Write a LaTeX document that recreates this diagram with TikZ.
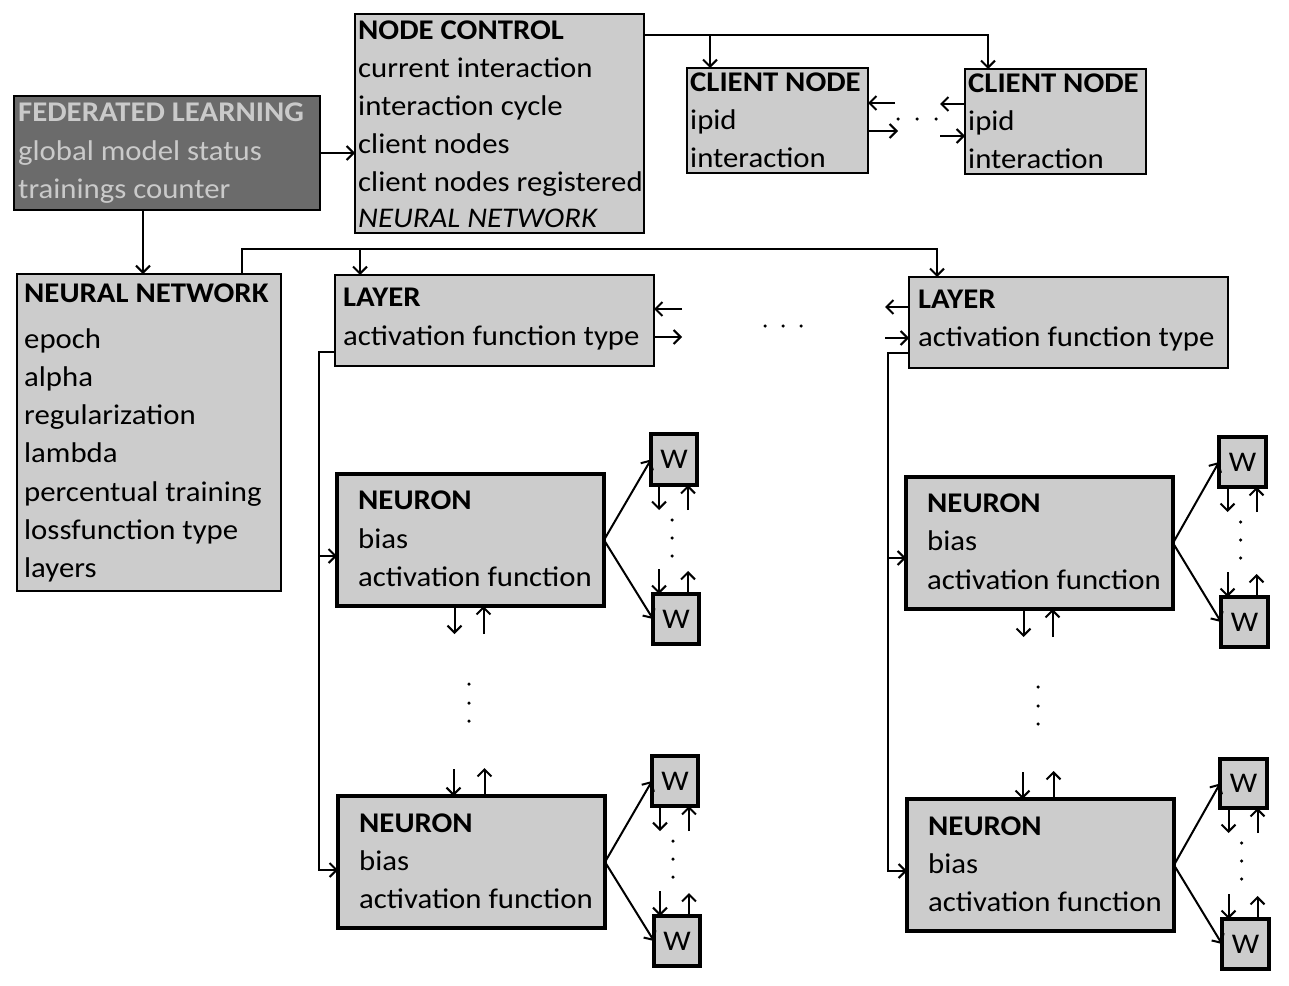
\documentclass[tikz,border=0pt]{standalone}
\usepackage{fontspec}
\setmainfont{Carlito}[FakeStretch=1.08]
\usetikzlibrary{arrows.meta,calc}
\definecolor{boxfill}{HTML}{CCCCCC}
\definecolor{darkfill}{HTML}{6B6B6B}
\definecolor{fltext}{HTML}{CACACA}
\tikzset{
  box/.style={draw=black,fill=boxfill,line width=2pt,rectangle,inner sep=0pt,outer sep=0pt},
  thickbox/.style={box,line width=3.5pt},
  darkbox/.style={box,fill=darkfill},
  arr/.style={-{Straight Barb[length=7pt,width=14pt,line width=2pt]},line width=2pt},
  ln/.style={line width=2pt},
  txt/.style={anchor=base west,inner sep=0pt,font=\fontsize{28.5}{38}\selectfont},
  wtxt/.style={inner sep=0pt,font=\fontsize{28.5}{38}\selectfont},
  dot/.style={fill=black,circle,inner sep=0pt,minimum size=3.5pt}
}
\newcommand{\bx}[6]{\node[#6,anchor=north west,minimum width={(#4-#2)*1pt},minimum height={(#5-#3)*1pt}] (#1) at (#2,#3) {};}
\newcommand{\wchain}[2]{%
  \draw[arr] ([xshift=-15pt]#1.south) -- ++(0,25);
  \draw[arr] ([shift={(14pt,-25pt)}]#1.south) -- ([xshift=14pt]#1.south);
  \draw[arr] ([shift={(-17pt,25pt)}]#2.north) -- ([xshift=-17pt]#2.north);
  \draw[arr] ([xshift=12pt]#2.north) -- ++(0,-23);
  \node[dot] at ($(#1.south)+(-2,35)$) {};
  \node[dot] at ($(#1.south)+(-2,53)$) {};
  \node[dot] at ($(#1.south)+(-2,71)$) {};
}
\newcommand{\nchain}[2]{%
  \draw[arr] ([xshift=-16pt]#1.south) -- ++(0,28);
  \draw[arr] ([shift={(13pt,-28pt)}]#1.south) -- ([xshift=13pt]#1.south);
  \draw[arr] ([shift={(-18pt,27pt)}]#2.north) -- ([xshift=-18pt]#2.north);
  \draw[arr] ([xshift=13pt]#2.north) -- ++(0,-28);
  \node[dot] at ($(#1.south)+(-1.5,78)$) {};
  \node[dot] at ($(#1.south)+(-1.5,97)$) {};
  \node[dot] at ($(#1.south)+(-1.5,115)$) {};
}
\begin{document}
\begin{tikzpicture}[x=1pt,y=-1pt]
\useasboundingbox[fill=white] (0,0) rectangle (1289,985);
% boxes
\bx{fl}{14}{96}{320}{210}{darkbox}
\bx{nc}{355}{14}{644}{233}{box}
\bx{cn1}{687}{68}{868}{173}{box}
\bx{cn2}{965}{69}{1146}{174}{box}
\bx{nn}{17}{274}{281}{591}{box}
\bx{l1}{335}{275}{654}{366}{box}
\bx{l2}{909}{277}{1228}{368}{box}
\bx{n1}{337}{474}{604}{606}{thickbox}
\bx{n2}{338}{796}{605}{928}{thickbox}
\bx{n3}{906}{477}{1173}{609}{thickbox}
\bx{n4}{907}{799}{1174}{931}{thickbox}
\bx{w1a}{651}{434}{697}{485}{thickbox}
\bx{w1b}{653}{594}{699}{644}{thickbox}
\bx{w2a}{652}{756}{698}{806}{thickbox}
\bx{w2b}{654}{916}{700}{966}{thickbox}
\bx{w3a}{1219}{437}{1266}{487}{thickbox}
\bx{w3b}{1221}{597}{1268}{647}{thickbox}
\bx{w4a}{1220}{759}{1267}{808}{thickbox}
\bx{w4b}{1222}{919}{1269}{969}{thickbox}
% texts
\node[txt,text=fltext] (flt1) at (18,121) {\bfseries FEDERATED LEARNING};
\node[txt,text=fltext] (flt2) at (18,160) {global model status};
\node[txt,text=fltext] (flt3) at (18,198) {trainings counter};
\node[txt] (nct1) at (358,39) {\bfseries NODE CONTROL};
\node[txt] (nct2) at (358,77) {current interaction};
\node[txt] (nct3) at (358,115) {interaction cycle};
\node[txt] (nct4) at (358,153) {client nodes};
\node[txt] (nct5) at (358,191) {client nodes registered};
\node[txt] (nct6) at (358,227) {\itshape NEURAL NETWORK};
\node[txt] (c1t1) at (690,91) {\bfseries CLIENT NODE};
\node[txt] (c1t2) at (690,129) {ipid};
\node[txt] (c1t3) at (690,167) {interaction};
\node[txt] (c2t1) at (968,92) {\bfseries CLIENT NODE};
\node[txt] (c2t2) at (968,130) {ipid};
\node[txt] (c2t3) at (968,168) {interaction};
\node[txt] (nnt1) at (24,302) {\bfseries NEURAL NETWORK};
\node[txt] (nnt2) at (24,348) {epoch};
\node[txt] (nnt3) at (24,386) {alpha};
\node[txt] (nnt4) at (24,424) {regularization};
\node[txt] (nnt5) at (24,462) {lambda};
\node[txt] (nnt6) at (24,501) {percentual training};
\node[txt] (nnt7) at (24,539) {lossfunction type};
\node[txt] (nnt8) at (24,577) {layers};
\node[txt] (l1t1) at (343,306) {\bfseries LAYER};
\node[txt] (l1t2) at (343,345) {activation function type};
\node[txt] (l2t1) at (918,308) {\bfseries LAYER};
\node[txt] (l2t2) at (918,346) {activation function type};
\node[txt] (n1t1) at (358,509) {\bfseries NEURON};
\node[txt] (n1t2) at (358,548) {bias};
\node[txt] (n1t3) at (358,586) {activation function};
\node[txt] (n2t1) at (359,832) {\bfseries NEURON};
\node[txt] (n2t2) at (359,870) {bias};
\node[txt] (n2t3) at (359,908) {activation function};
\node[txt] (n3t1) at (927,512) {\bfseries NEURON};
\node[txt] (n3t2) at (927,550) {bias};
\node[txt] (n3t3) at (927,589) {activation function};
\node[txt] (n4t1) at (928,835) {\bfseries NEURON};
\node[txt] (n4t2) at (928,873) {bias};
\node[txt] (n4t3) at (928,911) {activation function};
\foreach \w in {w1a,w1b,w2a,w2b,w3a,w3b,w4a,w4b}{\node[wtxt] at (\w.center) {W};}
% connectors
\draw[arr] (fl.east) -- (fl.east -| nc.west);
\coordinate (ncout) at ([yshift=-21pt]nc.north east);
\coordinate (cn1in) at ([xshift=23pt]cn1.north west);
\coordinate (cn2in) at ([xshift=23pt]cn2.north west);
\draw[arr] (ncout) -| (cn2in);
\draw[arr] (cn1in |- ncout) -- (cn1in);
\coordinate (a1) at (895,103);
\coordinate (a2) at (898,131);
\coordinate (a3) at (940,104);
\coordinate (a4) at (940,136);
\draw[arr] (a1) -- (a1 -| cn1.east);
\draw[arr] (a2 -| cn1.east) -- (a2);
\draw[arr] (a3 -| cn2.west) -- (a3);
\draw[arr] (a4) -- (a4 -| cn2.west);
\node[dot] (cd1) at (898,119) {};
\node[dot] (cd2) at (917,119) {};
\node[dot] (cd3) at (936,119) {};
\coordinate (f1) at (143,250);
\draw[arr] (f1 |- fl.south) -- (f1 |- nn.north);
\coordinate (busL) at (242,249);
\coordinate (busM) at (360,249);
\coordinate (busR) at (937,249);
\draw[arr] (busL |- nn.north) -- (busL) -- (busR) -- (busR |- l2.north);
\draw[arr] (busM) -- (busM |- l1.north);
\coordinate (b1) at (682,309);
\coordinate (b2) at (682,337);
\coordinate (b3) at (885,307);
\coordinate (b4) at (885,338);
\draw[arr] (b1) -- (b1 -| l1.east);
\draw[arr] (b2 -| l1.east) -- (b2);
\draw[arr] (b3 -| l2.west) -- (b3);
\draw[arr] (b4) -- (b4 -| l2.west);
\node[dot] (ld1) at (765,326) {};
\node[dot] (ld2) at (783,326) {};
\node[dot] (ld3) at (801,326) {};
\coordinate (v1t) at (319,352);
\coordinate (v1a) at (319,556);
\coordinate (v1b) at (319,870);
\draw[arr] (v1t -| l1.west) -- (v1t) -- (v1b) -- (v1b -| n2.west);
\draw[arr] (v1a) -- (v1a -| n1.west);
\coordinate (v2t) at (888,353);
\coordinate (v2a) at (888,558);
\coordinate (v2b) at (888,871);
\draw[arr] (v2t -| l2.west) -- (v2t) -- (v2b) -- (v2b -| n4.west);
\draw[arr] (v2a) -- (v2a -| n3.west);
\nchain{n1}{n2}
\nchain{n3}{n4}
\draw[arr] (n1.east) -- (w1a.west);
\draw[arr] (n1.east) -- (w1b.west);
\draw[arr] (n2.east) -- (w2a.west);
\draw[arr] (n2.east) -- (w2b.west);
\draw[arr] (n3.east) -- (w3a.west);
\draw[arr] (n3.east) -- (w3b.west);
\draw[arr] (n4.east) -- (w4a.west);
\draw[arr] (n4.east) -- (w4b.west);
\wchain{w1a}{w1b}
\wchain{w2a}{w2b}
\wchain{w3a}{w3b}
\wchain{w4a}{w4b}
\end{tikzpicture}
\end{document}
